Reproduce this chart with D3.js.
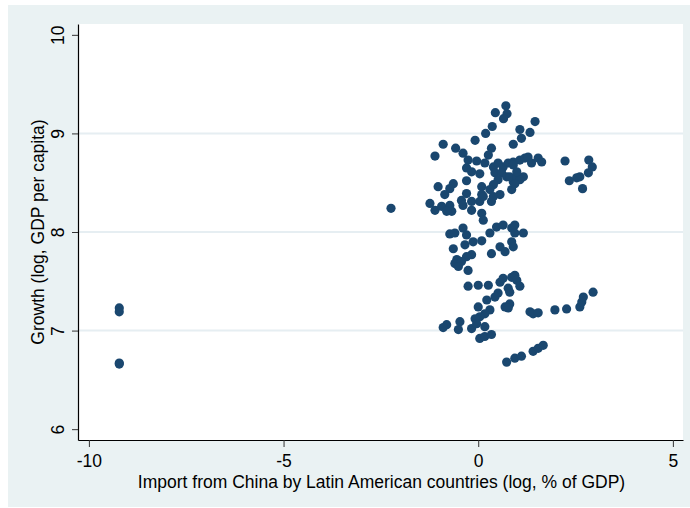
<!DOCTYPE html>
<html>
<head>
<meta charset="utf-8">
<script src="https://cdn.jsdelivr.net/npm/d3@7"></script>
<style>
  html, body { margin: 0; padding: 0; background: #ffffff; }
  svg { display: block; }
  text { font-family: "Liberation Sans", Arial, Helvetica, sans-serif; fill: #000; }
</style>
</head>
<body>
<svg id="chart" width="690" height="508"></svg>
<script>
// Import from China (log, % of GDP) for each country-year observation
const importShare = [
  0.71, 0.74, 0.44, 0.65, 0.36, 0.19, -0.08, -0.90, 0.34, -0.58,
  0.90, -1.11, -0.39, 0.26, -0.26, -0.04, 0.17, 0.39, -0.30, -0.17,
  0.04, 0.43, 0.64, 0.77, 0.90, 0.60, 0.73, 0.51, 0.39, -0.30,
  -0.64, -0.73, -1.03, -0.86, 0.09, 0.30, 0.09, -0.30, 0.56, 0.86,
  0.90, 0.81, -1.24, -1.11, -0.94, -0.73, -0.68, -0.43, -0.39, -0.17,
  -0.17, 0.04, 0.13, 0.34, 0.39, 0.09, 0.13, 1.46, 1.07, 1.33,
  1.11, 1.07, 1.20, 1.28, 1.37, 1.54, 1.63, 0.90, 0.99, 1.16,
  1.07, 0.94, 2.23, 2.84, 2.93, 2.83, 2.61, 2.53, 2.34, 2.68,
  -0.81, 0.99, 0.51,
  -0.73, -0.60, -0.39, -0.30, -0.13, 0.09, 0.30, 0.47, 0.64, 0.86,
  0.94, 1.16, 0.94, 0.56, 0.69, 0.86, 0.90, 0.34, -0.64, -0.34,
  -0.17, -0.30, -0.55, -0.60, -0.43, -0.51, -0.26,
  -0.26, 0.00, 0.26, 0.56, 0.64, 0.86, 0.94, 0.99, 1.07, 0.77,
  0.51, 0.43, 0.22, 0.00, 0.30, 0.17, 0.04, -0.08, 0.69, 0.81,
  0.77, 0.81, 1.33, 1.41, 1.54, 1.97, 2.27, 2.61, 2.66, 2.70,
  2.95, -0.81, -0.90, -0.47, -0.51, -0.17, -0.04, 0.17, 0.04, 0.17,
  0.34,
  0.73, 0.94, 1.11, 1.41, 1.54, 1.67,
  -9.22, -9.22, -9.22, -9.22, -2.24
];

// Growth (log, GDP per capita) for the same observations
const growth = [
  9.28, 9.20, 9.21, 9.15, 9.07, 9.00, 8.93, 8.89, 8.85, 8.85,
  8.89, 8.77, 8.80, 8.78, 8.73, 8.72, 8.70, 8.66, 8.65, 8.61,
  8.59, 8.60, 8.66, 8.70, 8.71, 8.60, 8.56, 8.53, 8.48, 8.52,
  8.49, 8.44, 8.46, 8.38, 8.46, 8.43, 8.38, 8.39, 8.38, 8.43,
  8.51, 8.56, 8.29, 8.22, 8.26, 8.27, 8.21, 8.32, 8.27, 8.31,
  8.22, 8.31, 8.36, 8.31, 8.36, 8.19, 8.12, 9.12, 9.04, 9.01,
  8.95, 8.73, 8.75, 8.76, 8.70, 8.75, 8.71, 8.68, 8.56, 8.56,
  8.53, 8.49, 8.72, 8.73, 8.66, 8.60, 8.56, 8.55, 8.52, 8.44,
  8.21, 8.61, 8.70,
  7.98, 7.99, 8.04, 7.97, 7.90, 7.91, 7.99, 8.05, 8.07, 8.04,
  8.07, 7.99, 7.99, 7.85, 7.80, 7.90, 7.85, 7.78, 7.83, 7.87,
  7.77, 7.75, 7.72, 7.68, 7.70, 7.65, 7.61,
  7.45, 7.46, 7.46, 7.49, 7.53, 7.54, 7.56, 7.51, 7.45, 7.43,
  7.38, 7.34, 7.31, 7.24, 7.21, 7.17, 7.14, 7.12, 7.24, 7.27,
  7.23, 7.39, 7.19, 7.17, 7.18, 7.21, 7.22, 7.24, 7.29, 7.34,
  7.39, 7.06, 7.03, 7.09, 7.01, 7.02, 7.07, 7.04, 6.92, 6.94,
  6.96,
  6.68, 6.72, 6.74, 6.79, 6.82, 6.85,
  7.23, 7.19, 6.67, 6.66, 8.24
];

const xTicks = [-10, -5, 0, 5];
const yTicks = [6, 7, 8, 9, 10];
const yGrid = [7, 8, 9];
const xTitle = "Import from China by Latin American countries (log, % of GDP)";
const yTitle = "Growth (log, GDP per capita)";

const points = importShare.map((v, i) => ({ x: v, y: growth[i] }));

const svg = d3.select("#chart");
const plot = { left: 78, right: 683, top: 24, bottom: 440 };
const fontSize = 17.5;

// outer graph region
svg.append("rect")
  .attr("x", 8).attr("y", 5)
  .attr("width", 682).attr("height", 502)
  .attr("fill", "#eaf2f3");

// plot region
svg.append("rect")
  .attr("x", plot.left).attr("y", plot.top)
  .attr("width", plot.right - plot.left).attr("height", plot.bottom - plot.top)
  .attr("fill", "#ffffff");

const x = d3.scaleLinear().domain([-10.28, 5.26]).range([plot.left, plot.right]);
const y = d3.scaleLinear().domain([5.89, 10.11]).range([plot.bottom, plot.top]);

// horizontal grid lines
svg.append("g")
  .selectAll("line")
  .data(yGrid)
  .join("line")
  .attr("x1", plot.left).attr("x2", plot.right)
  .attr("y1", d => y(d)).attr("y2", d => y(d))
  .attr("stroke", "#e6eef2")
  .attr("stroke-width", 2);

// markers
svg.append("g")
  .selectAll("circle")
  .data(points)
  .join("circle")
  .attr("cx", d => x(d.x))
  .attr("cy", d => y(d.y))
  .attr("r", 4.6)
  .attr("fill", "#1a476f");

// x axis
const xAxis = svg.append("g")
  .attr("transform", `translate(0,${plot.bottom})`)
  .call(d3.axisBottom(x).tickValues(xTicks).tickSizeInner(7).tickSizeOuter(0)
    .tickFormat(d3.format("d")));
xAxis.select(".domain").attr("stroke", "#000").attr("stroke-width", 1.2);
xAxis.selectAll(".tick line").attr("stroke", "#333");
xAxis.selectAll(".tick text")
  .attr("y", 27).attr("dy", 0)
  .attr("font-size", fontSize)
  .attr("font-family", null)
  .attr("fill", "#000")
  .text(d => d < 0 ? "-" + Math.abs(d) : String(d));

// y axis
const yAxis = svg.append("g")
  .attr("transform", `translate(${plot.left},0)`)
  .call(d3.axisLeft(y).tickValues(yTicks).tickSizeInner(6).tickSizeOuter(0)
    .tickFormat(d3.format("d")));
yAxis.select(".domain").attr("stroke", "#000").attr("stroke-width", 1.2);
yAxis.selectAll(".tick line").attr("stroke", "#333");
yAxis.selectAll(".tick text")
  .attr("transform", "rotate(-90)")
  .attr("x", 0).attr("y", -14).attr("dy", 0)
  .attr("text-anchor", "middle")
  .attr("font-size", fontSize)
  .attr("fill", "#000");
svg.selectAll(".tick text").attr("font-family", "Liberation Sans, Arial, sans-serif");

// axis titles
svg.append("text")
  .attr("x", (plot.left + plot.right) / 2 + 1)
  .attr("y", 488)
  .attr("text-anchor", "middle")
  .attr("font-size", fontSize)
  .text(xTitle);

svg.append("text")
  .attr("transform", `translate(43.5,${(plot.top + plot.bottom) / 2}) rotate(-90)`)
  .attr("text-anchor", "middle")
  .attr("font-size", fontSize)
  .text(yTitle);
</script>
</body>
</html>
